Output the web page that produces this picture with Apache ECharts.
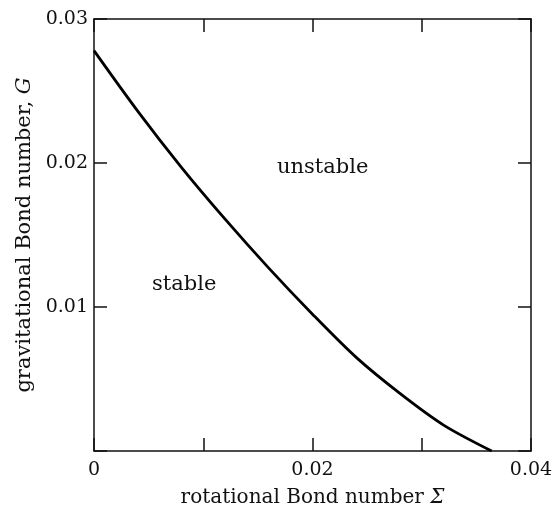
<!DOCTYPE html>
<html>
<head>
<meta charset="utf-8">
<script src="https://cdn.jsdelivr.net/npm/echarts@6/dist/echarts.min.js"></script>
<style>html,body{margin:0;padding:0;background:#fff}#c{width:554px;height:506px}</style>
</head>
<body>
<div id="c"></div>
<script>
// Data
var sigma = [0, 0.004, 0.008, 0.012, 0.016, 0.020, 0.024, 0.028, 0.032, 0.0364];
var G     = [0.0278, 0.0236, 0.0197, 0.0161, 0.0127, 0.0095, 0.0065, 0.0040, 0.0018, 0];
var xTickLabels = ['0', '0.02', '0.04'];
var yTickLabels = ['0.01', '0.02', '0.03'];
var regionLabels = ['stable', 'unstable'];

var FONT = 'DejaVu Serif';
var pts = sigma.map(function (s, i) { return [s, G[i]]; });

function xFmt(v) {
  var k = Math.round(v * 100);
  if (k % 2 !== 0) return '';
  var s = (k === 0) ? '0' : (v.toFixed(2));
  return xTickLabels.indexOf(s) >= 0 ? s : '';
}
function yFmt(v) {
  var s = v.toFixed(2);
  return yTickLabels.indexOf(s) >= 0 ? s : '';
}

var lineStyle = { color: '#111', width: 1.5 };
var tickCommon = { show: true, inside: true, length: 13, lineStyle: { color: '#111', width: 1.5 } };

var chart = echarts.init(document.getElementById('c'), null, { renderer: 'canvas' });
chart.setOption({
  animation: false,
  backgroundColor: '#fff',
  grid: { left: 94, right: 23, top: 19, bottom: 55, containLabel: false, outerBoundsMode: 'none' },
  xAxis: [{
    type: 'value', min: 0, max: 0.04, interval: 0.01, position: 'bottom',
    axisLine: { show: true, onZero: false, lineStyle: lineStyle },
    axisTick: tickCommon,
    splitLine: { show: false },
    axisLabel: { formatter: xFmt, fontFamily: FONT, fontSize: 19, color: '#111', margin: 10, showMinLabel: true, showMaxLabel: true },
    name: '{n|rotational Bond number }{i|Σ}',
    nameLocation: 'middle', nameGap: 37,
    nameTextStyle: { rich: { n: { fontFamily: FONT, fontSize: 20, color: '#111' }, i: { fontFamily: FONT, fontSize: 20, fontStyle: 'italic', color: '#111' } } }
  }, {
    type: 'value', min: 0, max: 0.04, interval: 0.01, position: 'top',
    axisLine: { show: true, onZero: false, lineStyle: lineStyle },
    axisTick: tickCommon, axisLabel: { show: false }, splitLine: { show: false }
  }],
  yAxis: [{
    type: 'value', min: 0, max: 0.03, interval: 0.01, position: 'left',
    axisLine: { show: true, onZero: false, lineStyle: lineStyle },
    axisTick: tickCommon,
    splitLine: { show: false },
    axisLabel: { formatter: yFmt, fontFamily: FONT, fontSize: 19, color: '#111', margin: 6 },
    name: '{n|gravitational Bond number, }{i|G}',
    nameLocation: 'middle', nameGap: 55, nameRotate: 90,
    nameTextStyle: { rich: { n: { fontFamily: FONT, fontSize: 21, color: '#111' }, i: { fontFamily: FONT, fontSize: 21, fontStyle: 'italic', color: '#111' } } }
  }, {
    type: 'value', min: 0, max: 0.03, interval: 0.01, position: 'right',
    axisLine: { show: true, onZero: false, lineStyle: lineStyle },
    axisTick: tickCommon, axisLabel: { show: false }, splitLine: { show: false }
  }],
  series: [{
    type: 'line', data: pts, smooth: 0.3, showSymbol: false, symbol: 'none',
    xAxisIndex: 0, yAxisIndex: 0,
    lineStyle: { color: '#000', width: 2.8 }
  }],
  graphic: [
    { type: 'text', x: 152, y: 285, style: { text: regionLabels[0], font: '21px "DejaVu Serif"', fill: '#111', verticalAlign: 'middle' } },
    { type: 'text', x: 277, y: 168, style: { text: regionLabels[1], font: '21px "DejaVu Serif"', fill: '#111', verticalAlign: 'middle' } }
  ]
});
</script>
</body>
</html>
